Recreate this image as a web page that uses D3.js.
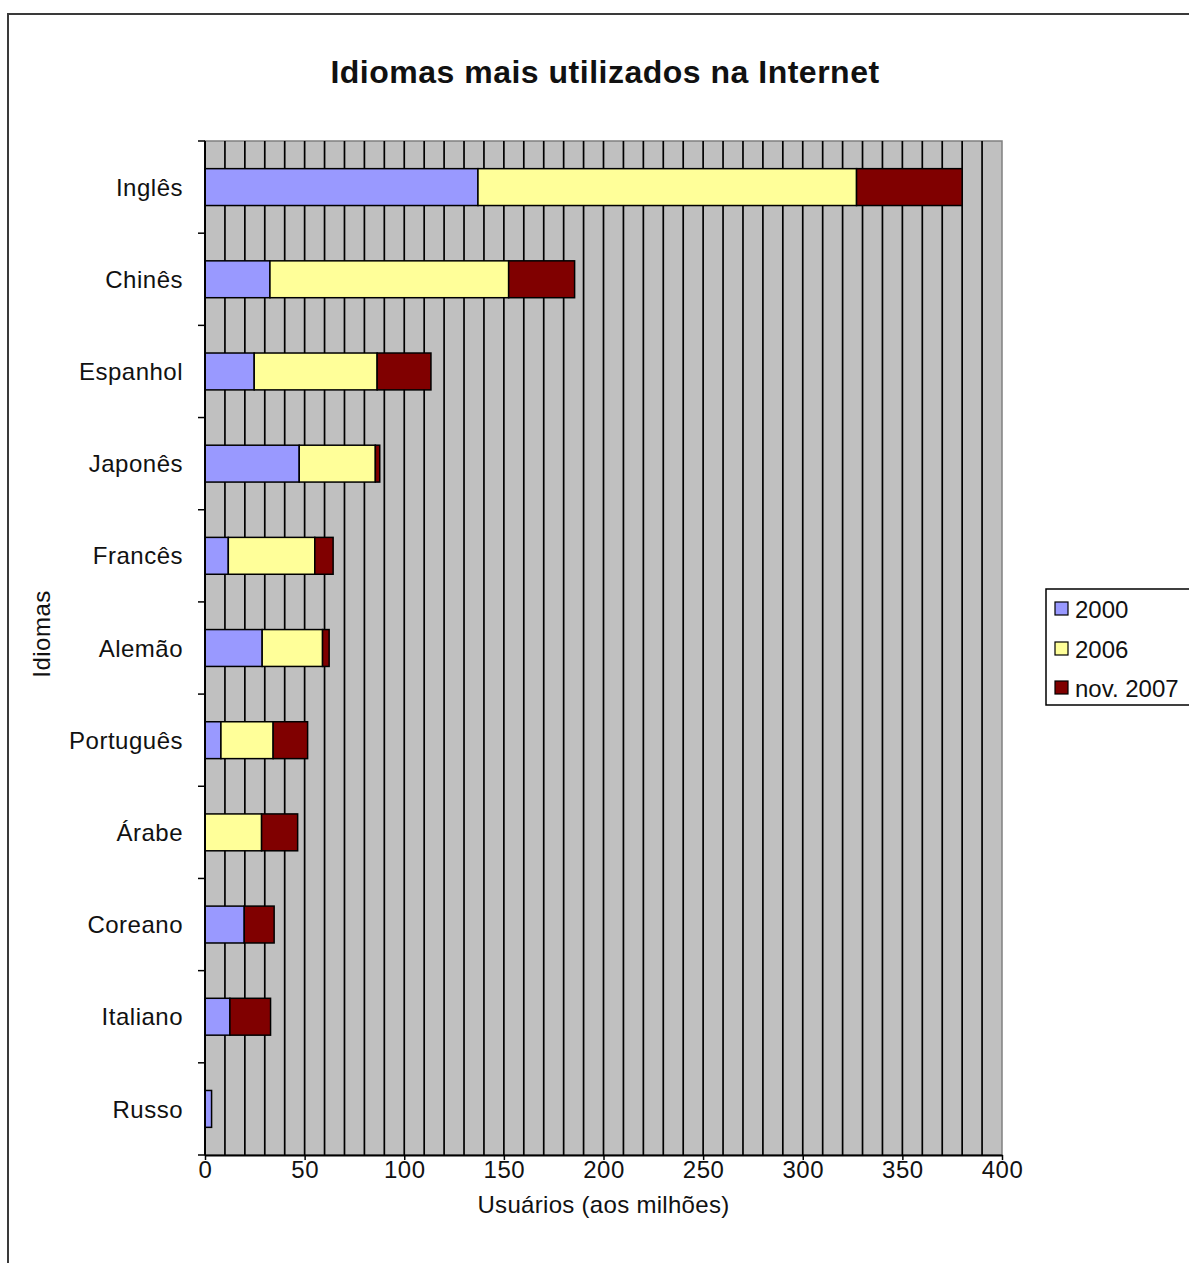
<!DOCTYPE html>
<html>
<head>
<meta charset="utf-8">
<script src="https://cdn.jsdelivr.net/npm/d3@7"></script>
<style>
  html, body { margin: 0; padding: 0; background: #fff; overflow: hidden; }
  svg { display: block; }
  text { font-family: "Liberation Sans", Arial, sans-serif; fill: #111; }
</style>
</head>
<body>
<svg id="chart" width="1189" height="1263"></svg>
<script>
// ---- Data (millions of users, stacked segments) ----
const categories = ["Inglês","Chinês","Espanhol","Japonês","Francês","Alemão","Português","Árabe","Coreano","Italiano","Russo"];
const seriesNames = ["2000","2006","nov. 2007"];
const values2000    = [137, 32.6, 24.7, 47.3, 11.7, 28.7, 8.0, 0, 19.7, 12.5, 3.3];
const values2006    = [190, 119.8, 61.7, 38.2, 43.4, 30.3, 26.2, 28.4, 0, 0, 0];
const valuesNov2007 = [53, 33.1, 27.0, 2.2, 9.2, 3.3, 17.3, 18.1, 15.0, 20.4, 0];
const xTickValues = [0, 50, 100, 150, 200, 250, 300, 350, 400];
const colors = ["#9999FF", "#FFFF99", "#800000"];

const rows = categories.map((c, i) => ({
  cat: c, "2000": values2000[i], "2006": values2006[i], "nov. 2007": valuesNov2007[i]
}));

const svg = d3.select("#chart");
const plot = { left: 205, right: 1002, top: 141, bottom: 1155 };

const x = d3.scaleLinear().domain([0, 400]).range([plot.left, plot.right]);
const y = d3.scaleBand().domain(categories).range([plot.top, plot.bottom])
  .paddingInner(0.6).paddingOuter(0.3);

// Outer chart border
svg.append("rect").attr("x", 8).attr("y", 14).attr("width", 1300).attr("height", 1400)
  .attr("fill", "none").attr("stroke", "#3a3a3a").attr("stroke-width", 2);

// Title
svg.append("text").attr("x", 605).attr("y", 83).attr("text-anchor", "middle")
  .style("font-size", "32px").style("font-weight", "bold").style("letter-spacing", "0.5px")
  .text("Idiomas mais utilizados na Internet");

// Plot background
svg.append("rect").attr("x", plot.left).attr("y", plot.top)
  .attr("width", plot.right - plot.left).attr("height", plot.bottom - plot.top)
  .attr("fill", "#C0C0C0").attr("stroke", "#808080").attr("stroke-width", 1.5);

// Vertical gridlines every 10
const grid = d3.range(10, 400, 10);
svg.append("g").selectAll("line").data(grid).join("line")
  .attr("x1", d => x(d)).attr("x2", d => x(d))
  .attr("y1", plot.top).attr("y2", plot.bottom)
  .attr("stroke", "#000").attr("stroke-width", 1.7);

// Stacked bars
const stack = d3.stack().keys(seriesNames);
const stacked = stack(rows);
svg.append("g").selectAll("g").data(stacked).join("g")
  .attr("fill", (d, i) => colors[i])
  .selectAll("rect").data(d => d.filter(s => s[1] - s[0] > 0)).join("rect")
  .attr("x", d => x(d[0])).attr("width", d => x(d[1]) - x(d[0]))
  .attr("y", d => y(d.data.cat)).attr("height", y.bandwidth())
  .attr("stroke", "#000").attr("stroke-width", 1.5);

// X axis
const xAxis = d3.axisBottom(x).tickValues(xTickValues).tickSize(5).tickSizeOuter(0).tickPadding(1);
const gx = svg.append("g").attr("transform", `translate(0,${plot.bottom})`).call(xAxis);
gx.select(".domain").attr("stroke", "#000").attr("stroke-width", 2);
gx.selectAll(".tick line").attr("stroke", "#000").attr("stroke-width", 1.5);
gx.selectAll(".tick text").style("font-size", "24px").style("letter-spacing", "0.5px")
  .style("font-family", "'Liberation Sans', Arial, sans-serif").attr("fill", "#111");

// Y axis: ticks at category boundaries, labels at band centers
const gy = svg.append("g");
gy.append("line").attr("x1", plot.left).attr("x2", plot.left)
  .attr("y1", plot.top).attr("y2", plot.bottom).attr("stroke", "#000").attr("stroke-width", 2);
const step = y.step();
const boundaries = d3.range(categories.length + 1).map(i => plot.top + i * step);
gy.selectAll("line.tk").data(boundaries).join("line").attr("class", "tk")
  .attr("x1", plot.left - 7).attr("x2", plot.left)
  .attr("y1", d => d).attr("y2", d => d)
  .attr("stroke", "#000").attr("stroke-width", 1.5);
gy.selectAll("text").data(categories).join("text")
  .attr("x", 183).attr("y", d => y(d) + y.bandwidth() / 2).attr("dy", "0.36em")
  .attr("text-anchor", "end").style("font-size", "24px").style("letter-spacing", "0.5px")
  .text(d => d);

// Axis titles
svg.append("text").attr("x", (plot.left + plot.right) / 2).attr("y", 1213)
  .attr("text-anchor", "middle").style("font-size", "24px").style("letter-spacing", "0.3px")
  .text("Usuários (aos milhões)");
svg.append("text").attr("transform", `translate(50,634) rotate(-90)`)
  .attr("text-anchor", "middle").style("font-size", "24px").style("letter-spacing", "0.5px")
  .text("Idiomas");

// Legend
const lg = svg.append("g");
lg.append("rect").attr("x", 1046).attr("y", 589).attr("width", 200).attr("height", 116)
  .attr("fill", "#fff").attr("stroke", "#000").attr("stroke-width", 1.5);
const legendY = [609, 649, 688];
seriesNames.forEach((s, i) => {
  lg.append("rect").attr("x", 1055).attr("y", legendY[i] - 7).attr("width", 13).attr("height", 13)
    .attr("fill", colors[i]).attr("stroke", "#000").attr("stroke-width", 1.2);
  lg.append("text").attr("x", 1075).attr("y", legendY[i]).attr("dy", "0.36em")
    .style("font-size", "24px").text(s);
});
</script>
</body>
</html>
